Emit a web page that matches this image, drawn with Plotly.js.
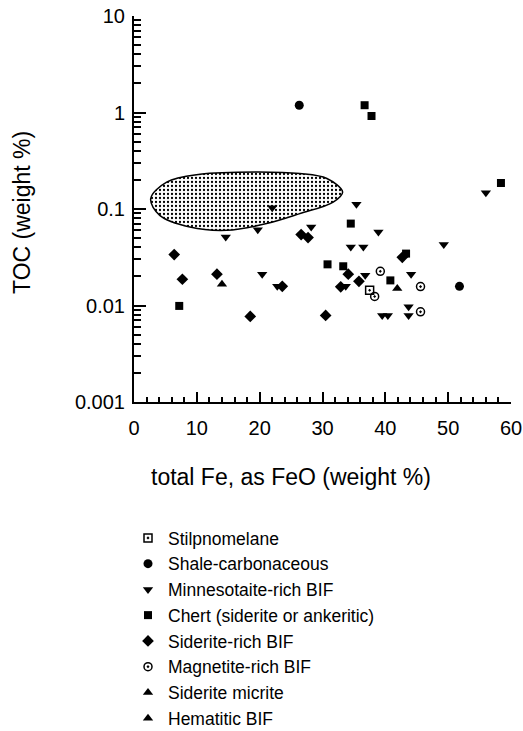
<!DOCTYPE html>
<html>
<head>
<meta charset="utf-8">
<script src="https://cdn.plot.ly/plotly-3.0.1.min.js"></script>
<style>html,body{margin:0;padding:0;background:#fff;}#chart{width:523px;height:731px;}</style>
</head>
<body>
<div id="chart"></div>
<script>
// ---- data ----
var stilpX = [37.5];
var stilpY = [0.0144];
var shaleX = [26.3, 51.8];
var shaleY = [1.19, 0.0158];
var minnX = [56.0, 35.4, 22.0, 28.2, 19.7, 14.6, 20.4, 22.8, 38.9, 34.5, 36.5, 49.3, 36.8, 44.1, 33.7, 43.7, 39.5, 40.4, 43.7];
var minnY = [0.147, 0.112, 0.103, 0.065, 0.0611, 0.0513, 0.0211, 0.0158, 0.0578, 0.0404, 0.0404, 0.0428, 0.0206, 0.0211, 0.0158, 0.0097, 0.0079, 0.0079, 0.0079];
var chertX = [36.7, 37.8, 58.4, 34.5, 43.3, 30.8, 33.3, 40.8, 7.2];
var chertY = [1.19, 0.92, 0.186, 0.0706, 0.0345, 0.0267, 0.0255, 0.0182, 0.0099];
var sidX = [26.6, 27.7, 6.4, 7.7, 13.2, 18.5, 23.6, 42.7, 34.1, 35.8, 32.9, 30.5];
var sidY = [0.0543, 0.0506, 0.0337, 0.0187, 0.0211, 0.0077, 0.0158, 0.0316, 0.0211, 0.0178, 0.0156, 0.0079];
var magX = [39.2, 38.3, 45.6, 45.6];
var magY = [0.0226, 0.0124, 0.0157, 0.0086];
var micX = [14.0];
var micY = [0.0166];
var hemX = [41.9];
var hemY = [0.0150];
// outline of the shaded field
var fieldX = [2.66, 5.2, 10.5, 19.5, 26.4, 30.7, 33.2, 31.7, 26.4, 21.1, 14.75, 8.9, 4.1, 2.66];
var fieldY = [0.128, 0.19, 0.229, 0.242, 0.233, 0.207, 0.150, 0.118, 0.0896, 0.0706, 0.0601, 0.065, 0.086, 0.128];

var seriesNames = ['Stilpnomelane', 'Shale-carbonaceous', 'Minnesotaite-rich BIF', 'Chert (siderite or ankeritic)', 'Siderite-rich BIF', 'Magnetite-rich BIF', 'Siderite micrite', 'Hematitic BIF'];
var xTitle = 'total Fe, as FeO (weight %)';
var yTitle = 'TOC (weight %)';
var yTickVals = [0.001, 0.01, 0.1, 1, 10];
var yTickText = ['0.001', '0.01', '0.1', '1', '10'];
var yMinorDigits = [2, 3, 4, 5, 6, 7, 8, 9];
var yMinorDecades = [0.001, 0.01, 0.1, 1];
var yMinorVals = [];
yMinorDecades.forEach(function (d) { yMinorDigits.forEach(function (k) { yMinorVals.push(k * d); }); });

function mk(x, y, name, symbol, size, lw) {
  return {
    x: x, y: y, name: name, type: 'scatter', mode: 'markers',
    marker: {symbol: symbol, size: size, color: '#000', line: {color: '#000', width: lw || 0}},
    hoverinfo: 'x+y+name'
  };
}

var traces = [
  {x: fieldX, y: fieldY, type: 'scatter', mode: 'lines', fill: 'toself',
   line: {color: '#000', width: 1.5, shape: 'spline', smoothing: 1.0},
   fillcolor: '#fff',
   fillpattern: {shape: '.', size: 4, solidity: 0.25, fgcolor: '#000', bgcolor: '#fff'},
   showlegend: false, hoverinfo: 'skip'},
  mk(stilpX, stilpY, seriesNames[0], 'square-open-dot', 8, 1.5),
  mk(shaleX, shaleY, seriesNames[1], 'circle', 9),
  mk(minnX, minnY, seriesNames[2], 'triangle-down', 9),
  mk(chertX, chertY, seriesNames[3], 'square', 8),
  mk(sidX, sidY, seriesNames[4], 'diamond', 9),
  mk(magX, magY, seriesNames[5], 'circle-open-dot', 8, 1.5),
  mk(micX, micY, seriesNames[6], 'triangle-up', 9),
  mk(hemX, hemY, seriesNames[7], 'triangle-up', 9),
  // carrier for the decade-labelled overlay axis (draws nothing)
  {x: [], y: [], type: 'scatter', mode: 'markers', yaxis: 'y2', showlegend: false, hoverinfo: 'skip'}
];

var L = 134, R = 12, T = 16, B = 329;
var W = 523, H = 731;
var pw = W - L - R, ph = H - T - B;
function px2paperX(p) { return (p - L) / pw; }
function px2paperY(p) { return (H - B - p) / ph; }

var fontFam = '"Liberation Sans", Arial, Helvetica, sans-serif';

var layout = {
  width: W, height: H,
  margin: {l: L, r: R, t: T, b: B, autoexpand: false},
  paper_bgcolor: '#fff', plot_bgcolor: '#fff',
  font: {family: fontFam, color: '#000'},
  showlegend: true,
  legend: {
    x: px2paperX(128), y: px2paperY(520), xanchor: 'left', yanchor: 'top',
    font: {family: fontFam, size: 17.5, color: '#000'},
    bgcolor: 'rgba(0,0,0,0)', borderwidth: 0
  },
  xaxis: {
    range: [0, 60], dtick: 10, tick0: 0,
    showgrid: false, zeroline: false,
    showline: true, linecolor: '#000', linewidth: 2,
    ticks: 'inside', ticklen: 10, tickwidth: 2, tickcolor: '#000',
    minor: {dtick: 2, tick0: 0, ticks: 'inside', ticklen: 5, tickwidth: 2, tickcolor: '#000', showgrid: false},
    tickfont: {family: fontFam, size: 20, color: '#000'},
    ticklabelstandoff: 7
  },
  // minor (2..9) ticks of the log axis
  yaxis: {
    type: 'log', range: [-3, 1],
    tickmode: 'array', tickvals: yMinorVals, showticklabels: false,
    showgrid: false, zeroline: false,
    showline: true, linecolor: '#000', linewidth: 2,
    ticks: 'inside', ticklen: 7, tickwidth: 2, tickcolor: '#000'
  },
  // decade ticks and labels
  yaxis2: {
    type: 'log', range: [-3, 1], overlaying: 'y', side: 'left', anchor: 'x',
    tickmode: 'array', tickvals: yTickVals, ticktext: yTickText,
    showgrid: false, zeroline: false, showline: false,
    ticks: 'inside', ticklen: 12, tickwidth: 2, tickcolor: '#000',
    tickfont: {family: fontFam, size: 20, color: '#000'},
    ticklabelstandoff: 8
  },
  annotations: [
    {text: xTitle, xref: 'paper', yref: 'paper', x: px2paperX(290.5), y: px2paperY(477),
     xanchor: 'center', yanchor: 'middle', showarrow: false,
     font: {family: fontFam, size: 23, color: '#000'}},
    {text: yTitle, xref: 'paper', yref: 'paper', x: px2paperX(22), y: px2paperY(213),
     xanchor: 'center', yanchor: 'middle', showarrow: false, textangle: -90,
     font: {family: fontFam, size: 23, color: '#000'}}
  ]
};

Plotly.newPlot('chart', traces, layout, {displayModeBar: false, staticPlot: true});
</script>
</body>
</html>
